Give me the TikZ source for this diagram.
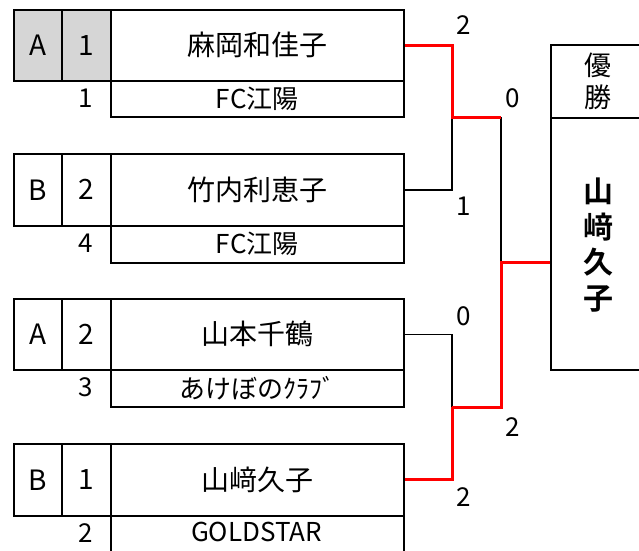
\documentclass[tikz,border=0pt]{standalone}
\usepackage{fontspec}
\newfontfamily\jp{Noto Sans CJK JP}[BoldFont={Noto Sans CJK JP Bold}]
\definecolor{cellgray}{HTML}{D6D6D6}
\definecolor{winred}{HTML}{FF0000}
\begin{document}
\begin{tikzpicture}[x=1pt,y=-1pt,
  box/.style={draw, line width=1.5pt, inner sep=0pt, anchor=north west},
  big/.style={font={\jp\fontsize{28}{32}\selectfont}},
  small/.style={font={\jp\fontsize{26}{30}\selectfont}},
  score/.style={font={\jp\fontsize{26}{30}\selectfont}, inner sep=0pt},
  win/.style={draw=winred, line width=3pt},
  lose/.style={draw=black, line width=1.5pt}]
\clip (0,0) rectangle (639,550);
\fill[white] (0,0) rectangle (639,550);
% block 1
\node[box, big, fill=cellgray, minimum width=48pt, minimum height=71pt] (g1) at (13,9) {A};
\node[box, big, fill=cellgray, minimum width=49pt, minimum height=71pt] (d1) at (61,9) {1};
\node[box, big, minimum width=293pt, minimum height=71pt] (n1) at (110,9) {麻岡和佳子};
\node[small, inner sep=0pt] (r1) at (85.5,98) {1};
\node[box, small, minimum width=293pt, minimum height=36pt] (c1) at (110,80) {FC江陽};
% block 2
\node[box, big, minimum width=48pt, minimum height=72pt] (g2) at (13,153) {B};
\node[box, big, minimum width=49pt, minimum height=72pt] (d2) at (61,153) {2};
\node[box, big, minimum width=293pt, minimum height=72pt] (n2) at (110,153) {竹内利恵子};
\node[small, inner sep=0pt] (r2) at (85.5,243.5) {4};
\node[box, small, minimum width=293pt, minimum height=37pt] (c2) at (110,225) {FC江陽};
% block 3
\node[box, big, minimum width=48pt, minimum height=71pt] (g3) at (13,298) {A};
\node[box, big, minimum width=49pt, minimum height=71pt] (d3) at (61,298) {2};
\node[box, big, minimum width=293pt, minimum height=71pt] (n3) at (110,298) {山本千鶴};
\node[small, inner sep=0pt] (r3) at (85.5,387.5) {3};
\node[box, small, minimum width=293pt, minimum height=37pt] (c3) at (110,369) {あけぼのｸﾗﾌﾞ};
% block 4
\node[box, big, minimum width=48pt, minimum height=72pt] (g4) at (13,443) {B};
\node[box, big, minimum width=49pt, minimum height=72pt] (d4) at (61,443) {1};
\node[box, big, minimum width=293pt, minimum height=72pt] (n4) at (110,443) {山﨑久子};
\node[small, inner sep=0pt] (r4) at (85.5,533) {2};
\node[box, minimum width=293pt, minimum height=50pt] (c4) at (110,515) {};
\node[small, inner sep=0pt] (t4) at (256.5,532) {GOLDSTAR};
% champion
\node[box, minimum width=150pt, minimum height=73pt] (head) at (550,44) {};
\node[align=center, inner sep=0pt, font={\jp\fontsize{27}{32}\selectfont}] (headt) at (598,81) {優\\勝};
\node[box, minimum width=150pt, minimum height=252pt] (champ) at (550,117) {};
\node[align=center, inner sep=0pt, font={\jp\bfseries\fontsize{30}{35.5}\selectfont}] (champt) at (598,245) {山\\﨑\\久\\子};
% junctions
\coordinate (s1) at (452,117);
\coordinate (s2) at (452,407);
\coordinate (fa) at (501,117);
\coordinate (fm) at (501,262);
\coordinate (fb) at (501,407);
% connectors
\draw[lose] (n2.east) -| (s1);
\draw[lose] (fa) -- (fm);
\draw[lose] (n3.east) -| (s2);
\draw[win] (n1.east) -| (s1) -- (fa);
\draw[win] (fm -| champ.west) -- (fm) -- (fb) -- (s2);
\draw[win] (n4.east) -| (s2);
% scores
\node[score] (sc1) at (464,25) {2};
\node[score] (sc2) at (464,206) {1};
\node[score] (sc3) at (513,98) {0};
\node[score] (sc4) at (464,316) {0};
\node[score] (sc5) at (464,497) {2};
\node[score] (sc6) at (513,427) {2};
\end{tikzpicture}
\end{document}
